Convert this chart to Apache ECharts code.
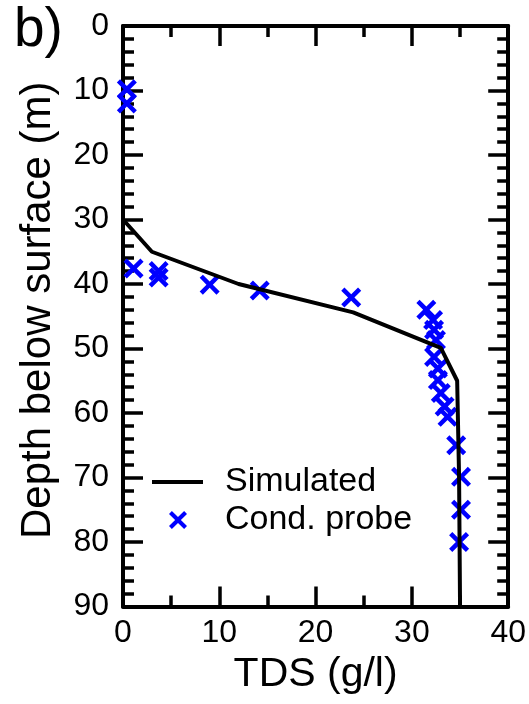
<!DOCTYPE html>
<html>
<head>
<meta charset="utf-8">
<script src="https://cdn.jsdelivr.net/npm/echarts@6/dist/echarts.min.js"></script>
<style>
  html, body { margin: 0; padding: 0; background: #ffffff; }
  #chart { width: 529px; height: 704px; }
</style>
</head>
<body>
<div id="chart"></div>
<script>
// Simulated TDS profile: [TDS (g/l), depth (m)]
const simulatedTDS   = [0, 3, 12, 23.9, 33.0, 34.7, 34.9, 35.0];
const simulatedDepth = [30, 35, 40, 44.4, 49.9, 55, 70, 90];

// Conductivity-probe measurements: [TDS (g/l), depth (m)]
const probeTDS   = [0.4, 0.4, 1.1, 3.7, 3.7, 9.0, 14.2, 23.7, 31.5, 32.2, 32.3, 32.5, 32.3, 32.7, 32.7, 33.0, 33.4, 33.7, 34.6, 35.1, 35.1, 34.9];
const probeDepth = [9.8, 12.0, 37.6, 38.0, 39.0, 40.1, 41.0, 42.1, 44.0, 45.6, 47.1, 48.7, 51.3, 53.1, 54.9, 56.9, 59.0, 60.6, 65.0, 69.9, 75.0, 80.0];

// Axis ranges and labels
const tdsTicks = ['0', '10', '20', '30', '40'];
const depthTicks = ['0', '10', '20', '30', '40', '50', '60', '70', '80', '90'];
const seriesNames = ['Simulated', 'Cond. probe'];
const axisNames = { x: 'TDS (g/l)', y: 'Depth below surface (m)' };
const panelLabel = 'b)';

const FONT = '"Liberation Sans", Arial, Helvetica, sans-serif';
const crossPath = 'path://M0,1.6L1.6,0L5,3.4L8.4,0L10,1.6L6.6,5L10,8.4L8.4,10L5,6.6L1.6,10L0,8.4L3.4,5Z';
const BLUE = '#0000ff';

const frameLine = { show: true, onZero: false, lineStyle: { color: '#000', width: 4 } };
const majorTick = { show: true, inside: true, length: 20, lineStyle: { color: '#000', width: 3.5 } };
const minorTickStyle = (split) => ({ show: true, splitNumber: split, length: 11, lineStyle: { color: '#000', width: 3.5 } });

const chart = echarts.init(document.getElementById('chart'), null, { renderer: 'canvas' });

chart.setOption({
  animation: false,
  backgroundColor: '#ffffff',
  textStyle: { fontFamily: FONT },
  title: {
    text: panelLabel,
    left: 14, top: 3, padding: 0,
    textStyle: { fontFamily: FONT, fontSize: 55, fontWeight: 'normal', color: '#000' }
  },
  grid: { left: 123, right: 20, top: 26, bottom: 97.5, containLabel: false },
  legend: [
    {
      data: [{ name: seriesNames[0], icon: 'rect' }],
      left: 152, top: 465, padding: 0,
      itemWidth: 51, itemHeight: 4,
      textStyle: { fontFamily: FONT, fontSize: 34, color: '#000', padding: [0, 0, 0, 17] }
    },
    {
      data: [seriesNames[1]],
      left: 169, top: 503, padding: 0,
      itemWidth: 18, itemHeight: 18,
      textStyle: { fontFamily: FONT, fontSize: 34, color: '#000', padding: [0, 0, 0, 33] }
    }
  ],
  xAxis: [
    {
      type: 'value', position: 'bottom', min: 0, max: 40, interval: 10,
      name: axisNames.x, nameLocation: 'middle', nameGap: 46,
      nameTextStyle: { fontFamily: FONT, fontSize: 41, color: '#000' },
      axisLine: frameLine, axisTick: majorTick, minorTick: minorTickStyle(2),
      axisLabel: {
        show: true, margin: 11, fontFamily: FONT, fontSize: 32, color: '#000',
        formatter: (v) => tdsTicks[Math.round(v / 10)]
      },
      splitLine: { show: false }
    },
    {
      type: 'value', position: 'top', min: 0, max: 40, interval: 10,
      axisLine: frameLine, axisTick: majorTick, minorTick: minorTickStyle(2),
      axisLabel: { show: false }, splitLine: { show: false }
    }
  ],
  yAxis: [
    {
      type: 'value', position: 'left', inverse: true, min: 0, max: 90, interval: 10,
      name: axisNames.y, nameLocation: 'middle', nameGap: 64, nameRotate: 90,
      nameTextStyle: { fontFamily: FONT, fontSize: 42, color: '#000', padding: [0, 0, 0, 12] },
      axisLine: frameLine, axisTick: majorTick, minorTick: minorTickStyle(5),
      axisLabel: {
        show: true, margin: 14, fontFamily: FONT, fontSize: 32, color: '#000',
        formatter: (v) => depthTicks[Math.round(v / 10)]
      },
      splitLine: { show: false }
    },
    {
      type: 'value', position: 'right', inverse: true, min: 0, max: 90, interval: 10,
      axisLine: frameLine, axisTick: majorTick, minorTick: minorTickStyle(5),
      axisLabel: { show: false }, splitLine: { show: false }
    }
  ],
  series: [
    {
      name: seriesNames[1],
      type: 'scatter',
      xAxisIndex: 0, yAxisIndex: 0,
      symbol: crossPath,
      symbolSize: 20,
      itemStyle: { color: BLUE, opacity: 1 },
      data: probeTDS.map((t, i) => [t, probeDepth[i]])
    },
    {
      name: seriesNames[0],
      type: 'line',
      xAxisIndex: 0, yAxisIndex: 0,
      showSymbol: false, symbol: 'none',
      lineStyle: { color: '#000', width: 4 },
      itemStyle: { color: '#000' },
      data: simulatedTDS.map((t, i) => [t, simulatedDepth[i]])
    }
  ]
});
</script>
</body>
</html>
